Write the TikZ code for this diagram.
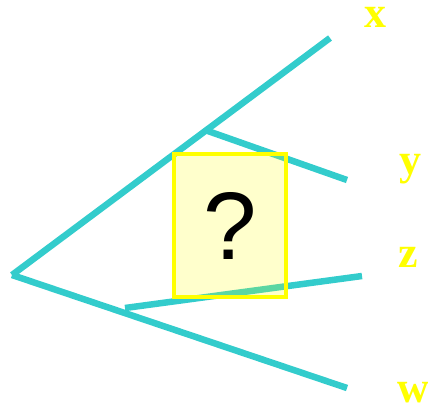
\documentclass[tikz,border=0pt]{standalone}
\usepackage{fontspec}
\setmainfont{Liberation Serif}
\newfontfamily\qfont{Liberation Sans}
\definecolor{branchcol}{RGB}{51,204,204}
\definecolor{leafcol}{RGB}{255,255,0}

\begin{document}
\begin{tikzpicture}[x=1pt, y=-1pt,
    branch/.style={draw=branchcol, line width=6.5pt},
    leaf/.style={text=leafcol, font=\fontsize{44}{44}\selectfont\bfseries, anchor=base, inner sep=0pt},
    qbox/.style={rectangle, draw=leafcol, line width=4pt, fill=leafcol, fill opacity=0.2,
                 text opacity=1, minimum width=112pt, minimum height=143pt,
                 font=\qfont\fontsize{96}{96}\selectfont}
]
    \useasboundingbox (0,0) rectangle (428,405);

    % Tree points
    \coordinate (root) at (12,275);
    \coordinate (xend) at (330,38);
    \coordinate (wend) at (347,388);
    \coordinate (ysplit) at (205,130);
    \coordinate (yend) at (347,180);
    \coordinate (zsplit) at (125,308);
    \coordinate (zend) at (362,276);

    % Branches
    \draw[branch] (root) -- (xend);
    \draw[branch] (root) -- (wend);
    \draw[branch] (ysplit) -- (yend);
    \draw[branch] (zsplit) -- (zend);

    % Unknown part
    \node[qbox] (unk) at (230,225.5) {?};

    % Leaf labels
    \node[leaf] (lx) at (375,27) {x};
    \node[leaf] (ly) at (410,174) {y};
    \node[leaf] (lz) at (408,267) {z};
    \node[leaf] (lw) at (413,402) {w};
\end{tikzpicture}
\end{document}
